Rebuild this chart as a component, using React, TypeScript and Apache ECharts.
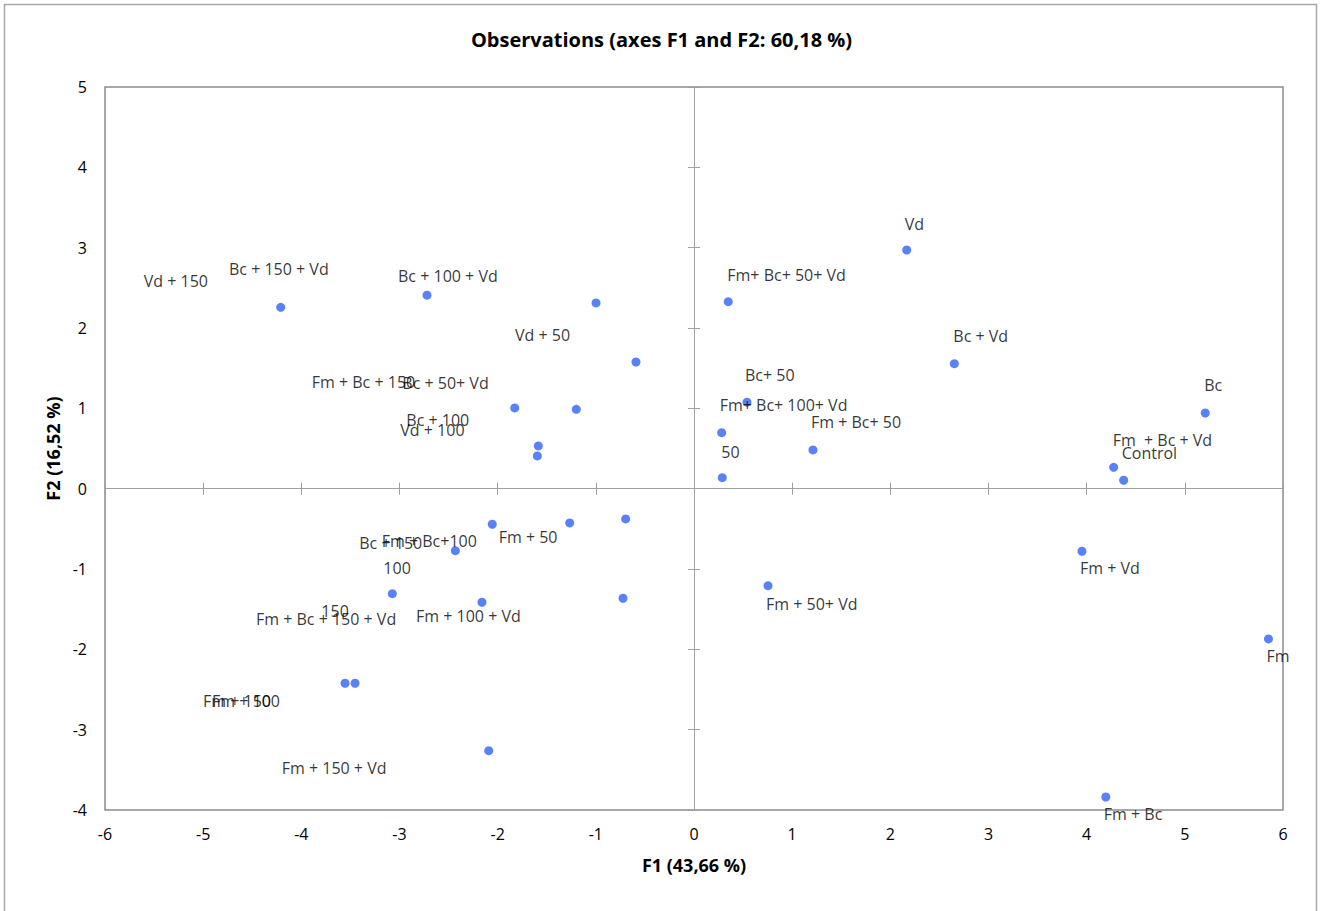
import React, { useEffect, useRef } from "react";
import * as echarts from "echarts";

const names = [
  "Vd + 150", "Bc + 150 + Vd", "Bc + 100 + Vd", "Vd + 50", "Fm + Bc + 150", "Bc + 50+ Vd", "Bc + 100", "Vd + 100",
  "Fm+ Bc+ 50+ Vd", "Vd", "Bc + Vd", "Bc+ 50", "Fm+ Bc+ 100+ Vd", "Fm + Bc+ 50", "50", "Bc",
  "Fm  + Bc + Vd", "Control", "Bc + 150", "Fm + Bc+100", "Fm + 50", "100", "150", "Fm + Bc + 150 + Vd",
  "Fm + 100 + Vd", "Fm + 50+ Vd", "Fm + Vd", "Fm", "Fm + 150", "Fm + 100", "Fm + 150 + Vd", "Fm + Bc",
];

const f1Values = [
  -4.21, -2.72, -0.998, -0.591, -1.826, -1.199, -1.586, -1.596,
  0.349, 2.167, 2.652, 0.54, 0.282, 1.212, 0.288, 5.208,
  4.275, 4.377, -2.055, -1.266, -0.696, -2.431, -3.073, -2.16,
  -0.723, 0.754, 3.952, 5.852, -3.555, -3.453, -2.091, 4.195,
];

const f2Values = [
  2.258, 2.408, 2.312, 1.577, 1.005, 0.988, 0.532, 0.407,
  2.328, 2.971, 1.556, 1.076, 0.697, 0.482, 0.137, 0.942,
  0.266, 0.105, -0.443, -0.427, -0.377, -0.772, -1.307, -1.414,
  -1.364, -1.208, -0.779, -1.871, -2.422, -2.422, -3.262, -3.838,
];

// label offsets in pixels (style only)
const labelOffsets: [number, number][] = [
  [-137, -26], [-198, -26], [-198, -27], [-121, -27], [-203, -26], [-174, -26], [-132, -26], [-137, -26],
  [-1, -27], [-2, -26], [-1, -28], [-2, -27], [-2, -28], [-2, -28], [-1, -26], [-1, -28],
  [-1, -27], [-2, -27], [-133, 19], [-188, 18], [-127, 18], [-72, 17], [-71, 17], [-226, 17],
  [-207, 18], [-2, 18], [-2, 17], [-2, 17], [-142, 18], [-143, 18], [-207, 17], [-2, 17],
];

const xTicks = { min: -6, max: 6, interval: 1 };
const yTicks = { min: -4, max: 5, interval: 1 };

const FONT = "Open Sans";

export default function App() {
  const ref = useRef<HTMLDivElement>(null);
  useEffect(() => {
    if (!ref.current) return;
    const chart = echarts.init(ref.current, null, { renderer: "svg" });
    const lineColor = "#a0a0a0";
    const data = names.map((n, i) => ({
      name: n,
      value: [f1Values[i], f2Values[i]],
      label: { offset: labelOffsets[i] },
    }));
    const xBase = { type: "value" as const, ...xTicks, splitLine: { show: false } };
    const yBase = { type: "value" as const, ...yTicks, splitLine: { show: false } };
    chart.setOption({
      animation: false,
      backgroundColor: "#ffffff",
      title: {
        text: "Observations (axes F1 and F2: 60,18 %)",
        left: "center",
        top: 24,
        textStyle: { fontFamily: FONT, fontWeight: "bold", fontSize: 20, color: "#000" },
      },
      graphic: [
        {
          type: "rect",
          shape: { x: 4.5, y: 4.5, width: 1312, height: 930 },
          style: { fill: "none", stroke: "#a6a6a6", lineWidth: 1.5 },
          silent: true,
        },
      ],
      grid: {
        left: 105,
        right: 40,
        top: 87,
        bottom: 101,
        show: true,
        borderColor: "#8c8c8c",
        borderWidth: 1.5,
      },
      xAxis: [
        {
          ...xBase,
          position: "bottom",
          axisLine: { show: false, onZero: false },
          axisTick: { show: false },
          axisLabel: { fontFamily: FONT, fontSize: 16, color: "#000", margin: 16 },
          name: "F1 (43,66 %)",
          nameLocation: "middle",
          nameGap: 46,
          nameTextStyle: { fontFamily: FONT, fontWeight: "bold", fontSize: 18, color: "#000" },
        },
        {
          ...xBase,
          axisLine: { show: true, onZero: true, onZeroAxisIndex: 0, lineStyle: { color: lineColor, width: 1 } },
          axisTick: { show: true, inside: true, length: 6, lineStyle: { color: lineColor } },
          axisLabel: { show: false },
        },
        {
          ...xBase,
          axisLine: { show: true, onZero: true, onZeroAxisIndex: 0, lineStyle: { color: lineColor, width: 1 } },
          axisTick: { show: true, inside: false, length: 6, lineStyle: { color: lineColor } },
          axisLabel: { show: false },
        },
      ],
      yAxis: [
        {
          ...yBase,
          position: "left",
          axisLine: { show: false, onZero: false },
          axisTick: { show: false },
          axisLabel: { fontFamily: FONT, fontSize: 16, color: "#000", margin: 18 },
          name: "F2 (16,52 %)",
          nameLocation: "middle",
          nameGap: 43,
          nameRotate: 90,
          nameTextStyle: { fontFamily: FONT, fontWeight: "bold", fontSize: 18, color: "#000" },
        },
        {
          ...yBase,
          axisLine: { show: true, onZero: true, onZeroAxisIndex: 0, lineStyle: { color: lineColor, width: 1 } },
          axisTick: { show: true, inside: true, length: 6, lineStyle: { color: lineColor } },
          axisLabel: { show: false },
        },
        {
          ...yBase,
          axisLine: { show: true, onZero: true, onZeroAxisIndex: 0, lineStyle: { color: lineColor, width: 1 } },
          axisTick: { show: true, inside: false, length: 6, lineStyle: { color: lineColor } },
          axisLabel: { show: false },
        },
      ],
      series: [
        {
          type: "scatter",
          xAxisIndex: 0,
          yAxisIndex: 0,
          symbolSize: 9,
          itemStyle: { color: "#2f62f6" },
          data,
          label: {
            show: true,
            position: "inside",
            align: "left",
            verticalAlign: "middle",
            formatter: "{b}",
            fontFamily: FONT,
            fontSize: 16,
            color: "#000",
          },
        },
      ],
    });
    return () => chart.dispose();
  }, []);
  return (
    <div
      ref={ref}
      style={{ position: "absolute", left: 0, top: 0, width: 1323, height: 911 }}
    />
  );
}
